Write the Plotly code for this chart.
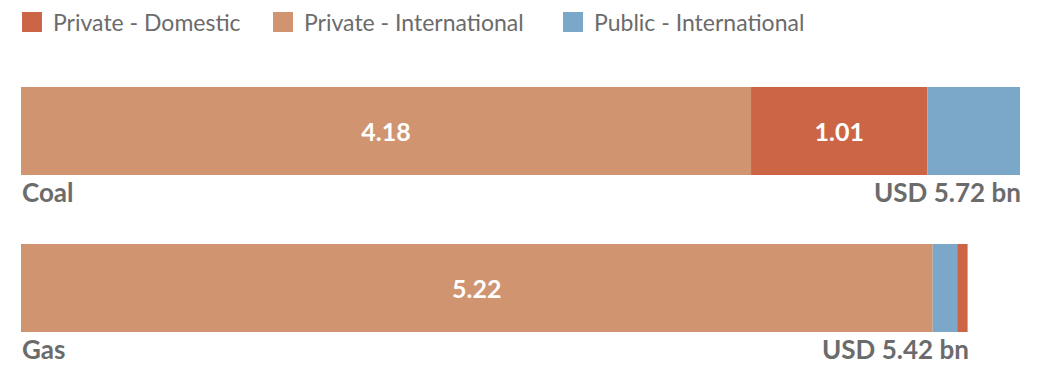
import plotly.graph_objects as go

# Financing flows, USD bn
categories = ["Coal", "Gas"]
private_international = [4.18, 5.22]
private_domestic = [1.01, 0.06]
public_international = [0.53, 0.14]
totals = [5.72, 5.42]

series_names = ["Private - Domestic", "Private - International", "Public - International"]
series_values = {
    "Private - Domestic": private_domestic,
    "Private - International": private_international,
    "Public - International": public_international,
}
colors = {
    "Private - Domestic": "#CC6546",
    "Private - International": "#D09470",
    "Public - International": "#7BA7C9",
}
# stacking order of segments within each bar
stack_order = {
    "Coal": ["Private - International", "Private - Domestic", "Public - International"],
    "Gas": ["Private - International", "Public - International", "Private - Domestic"],
}

W, H = 1039, 366
ML, MR, MT, MB = 21, 19, 0, 0
TEXT_GREY = "#6b6b6b"
FONT = "Lato, 'Noto Sans', sans-serif"

fig = go.Figure()

for name in series_names:
    xs, bases, ys, texts = [], [], [], []
    for i, cat in enumerate(categories):
        order = stack_order[cat]
        pos = order.index(name)
        base = sum(series_values[n][i] for n in order[:pos])
        v = series_values[name][i]
        xs.append(v)
        bases.append(base)
        ys.append(cat)
        texts.append(f"{v:.2f}" if v >= 1 else "")
    fig.add_trace(go.Bar(
        name=name, orientation="h", x=xs, y=ys, base=bases,
        marker=dict(color=colors[name], line=dict(width=0)),
        width=0.56, text=texts, textposition="inside",
        insidetextanchor="middle",
        textfont=dict(family=FONT, size=25, color="white", weight="bold"),
        showlegend=False, hoverinfo="skip",
    ))

annotations = []
for cat, tot in zip(categories, totals):
    annotations.append(dict(
        x=0, y=cat, xref="x", yref="y", text=f"<b>{cat}</b>",
        xanchor="left", yanchor="bottom", yshift=-78, borderpad=0,
        showarrow=False, font=dict(family=FONT, size=26, color=TEXT_GREY),
    ))
    annotations.append(dict(
        x=tot, y=cat, xref="x", yref="y", text=f"<b>USD {tot:.2f} bn</b>",
        xanchor="right", yanchor="bottom", yshift=-78, xshift=2, borderpad=0,
        showarrow=False, font=dict(family=FONT, size=26, color=TEXT_GREY),
    ))

# legend row drawn as swatches + labels
def px_x(p):
    return (p - ML) / (W - ML - MR)

def px_y(p):
    return (H - MB - p) / (H - MT - MB)

legend_x = [22, 273, 563]
shapes = []
for lx, name in zip(legend_x, series_names):
    shapes.append(dict(
        type="rect", xref="paper", yref="paper",
        x0=px_x(lx), x1=px_x(lx + 20), y0=px_y(32), y1=px_y(12),
        fillcolor=colors[name], line=dict(width=0),
    ))
    annotations.append(dict(
        x=px_x(lx + 29), y=px_y(22), xref="paper", yref="paper",
        text=name, xanchor="left", yanchor="middle", showarrow=False,
        font=dict(family=FONT, size=23, color=TEXT_GREY),
    ))

fig.update_layout(
    width=W, height=H,
    margin=dict(l=ML, r=MR, t=MT, b=MB),
    paper_bgcolor="white", plot_bgcolor="white",
    barmode="overlay",
    xaxis=dict(range=[0, 5.72], visible=False, fixedrange=True),
    yaxis=dict(type="category", categoryarray=categories,
               range=[1.497, -0.834], visible=False, fixedrange=True),
    annotations=annotations, shapes=shapes,
    uniformtext=dict(mode="show", minsize=10),
)

fig.write_html("out.html", config={"displayModeBar": False})
